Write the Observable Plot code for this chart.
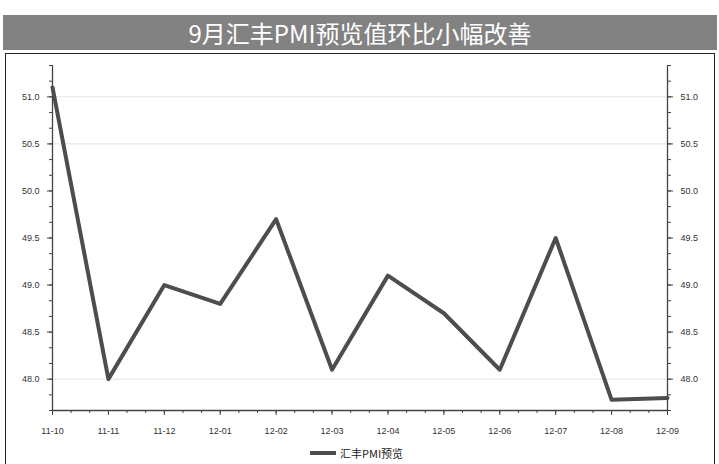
<!DOCTYPE html>
<html><head><meta charset="utf-8">
<script src="https://cdn.jsdelivr.net/npm/d3@7"></script>
<script src="https://cdn.jsdelivr.net/npm/@observablehq/plot@0.6"></script>
<style>
body{margin:0;width:719px;height:464px;background:#fff;position:relative;overflow:hidden;font-family:"Noto Sans CJK SC","Noto Sans",sans-serif;}
#title{position:absolute;left:3px;top:15px;width:714px;height:35px;background:#828282;color:#fff;font-size:24px;line-height:35px;text-align:center;}
#box{position:absolute;left:5px;top:53px;width:708px;height:420px;border:1px solid #222;}
#chart{position:absolute;left:0;top:53px;}
#legend{position:absolute;left:310px;top:445px;font-size:11px;color:#222;display:flex;align-items:center;gap:4px;}
#legend span.sw{display:inline-block;width:26px;height:4px;background:#4d4d4d;}
</style></head>
<body>
<div id="title">9月汇丰PMI预览值环比小幅改善</div>
<div id="box"></div>
<div id="chart"></div>
<div id="legend"><span class="sw"></span><span>汇丰PMI预览</span></div>
<script>
const months = ["11-10","11-11","11-12","12-01","12-02","12-03","12-04","12-05","12-06","12-07","12-08","12-09"];
const pmi = [51.1, 48.0, 49.0, 48.8, 49.7, 48.1, 49.1, 48.7, 48.1, 49.5, 47.78, 47.8];
const yTicks = [48.0, 48.5, 49.0, 49.5, 50.0, 50.5, 51.0];
const gridY = [48.0, 50.5, 51.0];
const seriesName = "汇丰PMI预览";

const data = months.map((m, i) => ({i, m, v: pmi[i]}));
const n = months.length - 1;
const minorX = d3.range(0, n * 3 + 1).map(k => k / 3);
const minorY = d3.range(0, 23).map(k => 47.6667 + k / 6).filter(v => v <= 51.34);

const chart = Plot.plot({
  width: 719,
  height: 392,
  marginLeft: 52,
  marginRight: 52,
  marginTop: 12,
  marginBottom: 35,
  style: {fontFamily: "'Liberation Sans', Arial, sans-serif", fontSize: "9px", color: "#333", background: "transparent"},
  x: {type: "linear", domain: [0, n]},
  y: {domain: [47.6667, 51.3333]},
  marks: [
    Plot.ruleY(gridY, {stroke: "#e2e2e2", strokeWidth: 1}),
    Plot.axisX(minorX, {tickSize: 3, tickFormat: () => "", stroke: "#444", label: null}),
    Plot.axisX(d3.range(0, n + 1), {tickSize: 5, tickPadding: 12, tickFormat: i => months[i], stroke: "#444", label: null}),
    Plot.axisY(minorY, {anchor: "left", tickSize: 3, tickFormat: () => "", stroke: "#444", label: null}),
    Plot.axisY(yTicks, {anchor: "left", tickSize: 5, tickPadding: 8, tickFormat: d3.format(".1f"), label: null, stroke: "#444"}),
    Plot.axisY(minorY, {anchor: "right", tickSize: 3, tickFormat: () => "", stroke: "#444", label: null}),
    Plot.axisY(yTicks, {anchor: "right", tickSize: 5, tickPadding: 8, tickFormat: d3.format(".1f"), label: null, stroke: "#444"}),
    Plot.ruleX([0, n], {stroke: "#444", strokeWidth: 1.3}),
    Plot.ruleY([47.6667], {stroke: "#444", strokeWidth: 1.3}),
    Plot.line(data, {x: "i", y: "v", stroke: "#4d4d4d", strokeWidth: 4, title: () => seriesName})
  ]
});
document.getElementById("chart").appendChild(chart);
</script>
</body></html>
